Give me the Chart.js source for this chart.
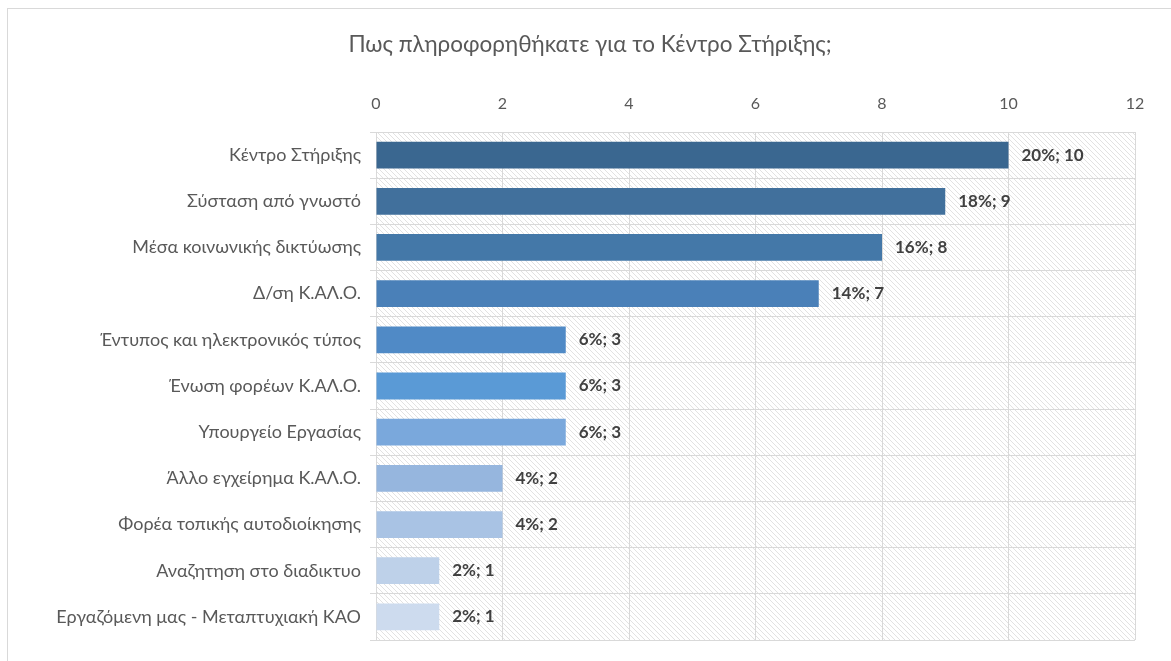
<!DOCTYPE html>
<html>
<head>
<meta charset="utf-8">
<script src="https://cdn.jsdelivr.net/npm/chart.js@4.4.1/dist/chart.umd.min.js"></script>
<style>
  html, body { margin: 0; padding: 0; background: #fff; }
  #wrap { position: relative; width: 1171px; height: 661px; }
</style>
</head>
<body>
<div id="wrap"><canvas id="myChart"></canvas></div>
<script>
const title = 'Πως πληροφορηθήκατε για το Κέντρο Στήριξης;';

const categories = [
   'Κέντρο Στήριξης',
   'Σύσταση από γνωστό',
   'Μέσα κοινωνικής δικτύωσης',
   'Δ/ση Κ.ΑΛ.Ο.',
   'Έντυπος και ηλεκτρονικός τύπος',
   'Ένωση φορέων Κ.ΑΛ.Ο.',
   'Υπουργείο Εργασίας',
   'Άλλο εγχείρημα Κ.ΑΛ.Ο.',
   'Φορέα τοπικής αυτοδιοίκησης',
   'Αναζητηση στο διαδικτυο',
   'Εργαζόμενη μας - Μεταπτυχιακή ΚΑΟ'
];

const counts = [10, 9, 8, 7, 3, 3, 3, 2, 2, 1, 1];

const barColors = [
   '#3a6790', '#41709c', '#4478a8', '#4a80b8', '#508ac6', '#5a9ad6',
   '#7aa8dc', '#96b6de', '#a9c3e4', '#bed1e9', '#cddbee'
];

const xTicks = [0, 2, 4, 6, 8, 10, 12];

const fontFam = 'Lato, "Open Sans", "Noto Sans", sans-serif';
const total = counts.reduce((a, b) => a + b, 0);

// hatched background of the plot area
function makeHatch() {
   const c = document.createElement('canvas');
   c.width = 5; c.height = 5;
   const g = c.getContext('2d');
   g.fillStyle = '#ffffff';
   g.fillRect(0, 0, 5, 5);
   g.strokeStyle = '#e2e2e2';
   g.lineWidth = 1;
   g.beginPath();
   g.moveTo(-1, -1); g.lineTo(6, 6);
   g.moveTo(-1, 4); g.lineTo(1, 6);
   g.moveTo(4, -1); g.lineTo(6, 1);
   g.stroke();
   return c;
}

const bgPlugin = {
   id: 'bgPlugin',
   beforeDraw(chart) {
      const ctx = chart.ctx;
      const a = chart.chartArea;
      ctx.save();
      ctx.fillStyle = '#fff';
      ctx.fillRect(0, 0, chart.width, chart.height);
      ctx.strokeStyle = '#d9d9d9';
      ctx.lineWidth = 1;
      ctx.strokeRect(7.5, 8.5, 1300, 800);
      ctx.fillStyle = ctx.createPattern(makeHatch(), 'repeat');
      ctx.fillRect(a.left, a.top, a.right - a.left, a.bottom - a.top);
      // title
      ctx.fillStyle = '#595959';
      ctx.font = '22.5px ' + fontFam;
      ctx.textAlign = 'center';
      ctx.textBaseline = 'middle';
      ctx.fillText(title, 590, 45);
      ctx.restore();
   }
};

const labelPlugin = {
   id: 'labelPlugin',
   afterDatasetsDraw(chart) {
      const ctx = chart.ctx;
      const meta = chart.getDatasetMeta(0);
      ctx.save();
      ctx.fillStyle = '#404040';
      ctx.font = 'bold 17px ' + fontFam;
      ctx.textAlign = 'left';
      ctx.textBaseline = 'middle';
      meta.data.forEach((bar, i) => {
         const pct = Math.round(counts[i] / total * 100);
         ctx.fillText(pct + '%; ' + counts[i], bar.x + 13, bar.y);
      });
      ctx.restore();
   }
};

new Chart(document.getElementById('myChart'), {
   type: 'bar',
   data: {
      labels: categories,
      datasets: [{
         data: counts,
         backgroundColor: barColors,
         borderWidth: 0,
         barPercentage: 0.58,
         categoryPercentage: 1
      }]
   },
   options: {
      indexAxis: 'y',
      responsive: true,
      maintainAspectRatio: false,
      animation: false,
      layout: { padding: { left: 0, right: 36, top: 0, bottom: 21 } },
      plugins: {
         legend: { display: false },
         tooltip: { enabled: false }
      },
      scales: {
         x: {
            position: 'top',
            min: 0,
            max: 12,
            afterBuildTicks(scale) {
               scale.ticks = xTicks.map(v => ({ value: v }));
            },
            afterFit(scale) { scale.height = 132; },
            ticks: {
               color: '#595959',
               font: { family: fontFam, size: 16 },
               padding: 19
            },
            grid: { color: '#d9d9d9', drawTicks: false },
            border: { color: '#d9d9d9' }
         },
         y: {
            afterFit(scale) { scale.width = 376; },
            ticks: {
               color: '#595959',
               font: { family: fontFam, size: 18 },
               padding: 9
            },
            grid: { color: '#d9d9d9', offset: true, tickLength: 6 },
            border: { color: '#d9d9d9' }
         }
      }
   },
   plugins: [bgPlugin, labelPlugin]
});
</script>
</body>
</html>
